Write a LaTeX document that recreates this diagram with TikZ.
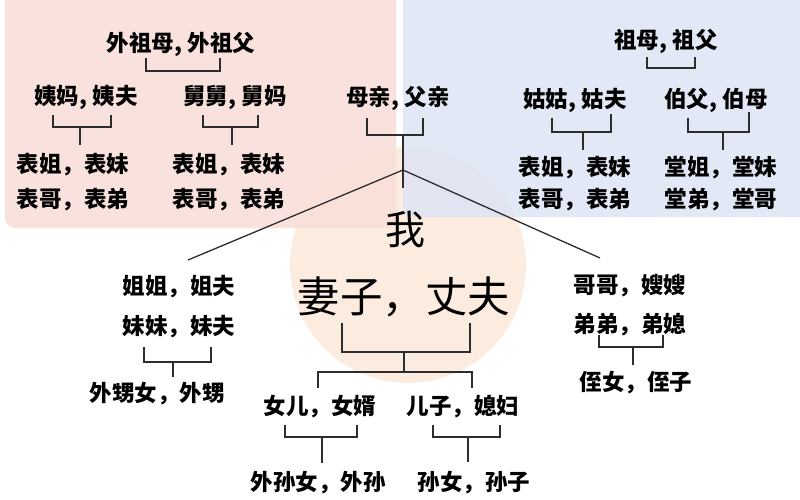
\documentclass[tikz,border=0pt]{standalone}
\usepackage{fontspec}
\newfontfamily\cjk{Noto Sans CJK SC}
\definecolor{pinkbg}{RGB}{249,222,216}
\definecolor{bluebg}{RGB}{222,228,245}
\definecolor{peach}{RGB}{252,236,224}
\definecolor{linec}{RGB}{45,45,45}
\begin{document}
\begin{tikzpicture}[x=1pt,y=-1pt,
  t/.style={inner sep=0pt, text=black, font=\cjk\bfseries\fontsize{22.5}{24}\selectfont},
  bigt/.style={inner sep=0pt, text=black, font=\cjk\fontsize{42.5}{44}\selectfont},
  br/.style={draw=linec, line width=1.6pt},
  ln/.style={draw=linec, line width=1.3pt}]
\useasboundingbox (0,0) rectangle (800,500);
\fill[white] (0,0) rectangle (800,500);
% backgrounds
\fill[peach] (408,265) circle (118);
\fill[pinkbg, opacity=.85, rounded corners=10pt] (5,-20) rectangle (396,228);
\fill[bluebg, opacity=.85, rounded corners=10pt] (403,-20) rectangle (820,217);

% ---------- mother's side ----------
\node[t] (wzf) at (181,44) {外祖母, 外祖父};
\draw[br] (146,58) |- (220,71) -- (220,58);
\node[t] (ym) at (86,97) {姨妈, 姨夫};
\draw[br] (53,115) |- (111,127) -- (111,115);
\draw[br] (80,127) -- (80,145);
\node[t] (jj) at (235,97) {舅舅, 舅妈};
\draw[br] (203,115) |- (258,127) -- (258,115);
\draw[br] (232,127) -- (232,145);
\node[t] (b1a) at (73,165) {表姐，表妹};
\node[t] (b1b) at (73,200) {表哥，表弟};
\node[t] (b2a) at (229,165) {表姐，表妹};
\node[t] (b2b) at (229,200) {表哥，表弟};

% ---------- parents ----------
\node[t] (mq) at (398,98) {母亲, 父亲};
\draw[br] (367,118) |- (423,135) -- (423,118);
\draw[br] (403,135) -- (403,188);
\coordinate (apex) at (403,170);
\coordinate (lend) at (188,260);
\coordinate (rend) at (600,258);
\draw[ln] (lend) -- (apex) -- (rend);

% ---------- father's side ----------
\node[t] (zm) at (666,41) {祖母, 祖父};
\draw[br] (647,57) |- (695,68) -- (695,57);
\node[t] (gg) at (575,100) {姑姑, 姑夫};
\draw[br] (552,118) |- (611,132) -- (611,114);
\draw[br] (583,132) -- (583,150);
\node[t] (bf) at (716,100) {伯父, 伯母};
\draw[br] (688,118) |- (749,132) -- (749,112);
\draw[br] (723,132) -- (723,150);
\node[t] (b3a) at (575,168) {表姐，表妹};
\node[t] (b3b) at (575,200) {表哥，表弟};
\node[t] (tj) at (721,168) {堂姐，堂妹};
\node[t] (td) at (721,200) {堂弟，堂哥};

% ---------- me ----------
\node[bigt, font=\cjk\fontsize{40}{42}\selectfont] (wo) at (405,230) {我};
\node[bigt] (qz) at (404,297) {妻子，丈夫};
\draw[br] (342,323) |- (470,352) -- (470,323);
\draw[br] (404,352) -- (404,372);
\draw[br] (318,388) |- (472,372) -- (472,388);

% ---------- children ----------
\node[t] (ne) at (320,407) {女儿，女婿};
\node[t] (ez) at (463,407) {儿子，媳妇};
\draw[br] (285,425) |- (357,437) -- (357,425);
\draw[br] (322,437) -- (322,463);
\draw[br] (433,425) |- (500,437) -- (500,425);
\draw[br] (468,437) -- (468,462);
\node[t] (wsn) at (318,483) {外孙女，外孙};
\node[t] (sn) at (474,483) {孙女，孙子};

% ---------- sisters ----------
\node[t] (jjf) at (179,287) {姐姐，姐夫};
\node[t] (mmf) at (179,327) {妹妹，妹夫};
\draw[br] (144,347) |- (211,362) -- (211,347);
\draw[br] (173,362) -- (173,377);
\node[t] (wsh) at (157,394) {外甥女，外甥};

% ---------- brothers ----------
\node[t] (gs) at (630,286) {哥哥，嫂嫂};
\node[t] (dd) at (630,325) {弟弟，弟媳};
\draw[br] (599,335) |- (663,347) -- (663,335);
\draw[br] (633,347) -- (633,365);
\node[t] (zn) at (636,383) {侄女，侄子};
\end{tikzpicture}
\end{document}
